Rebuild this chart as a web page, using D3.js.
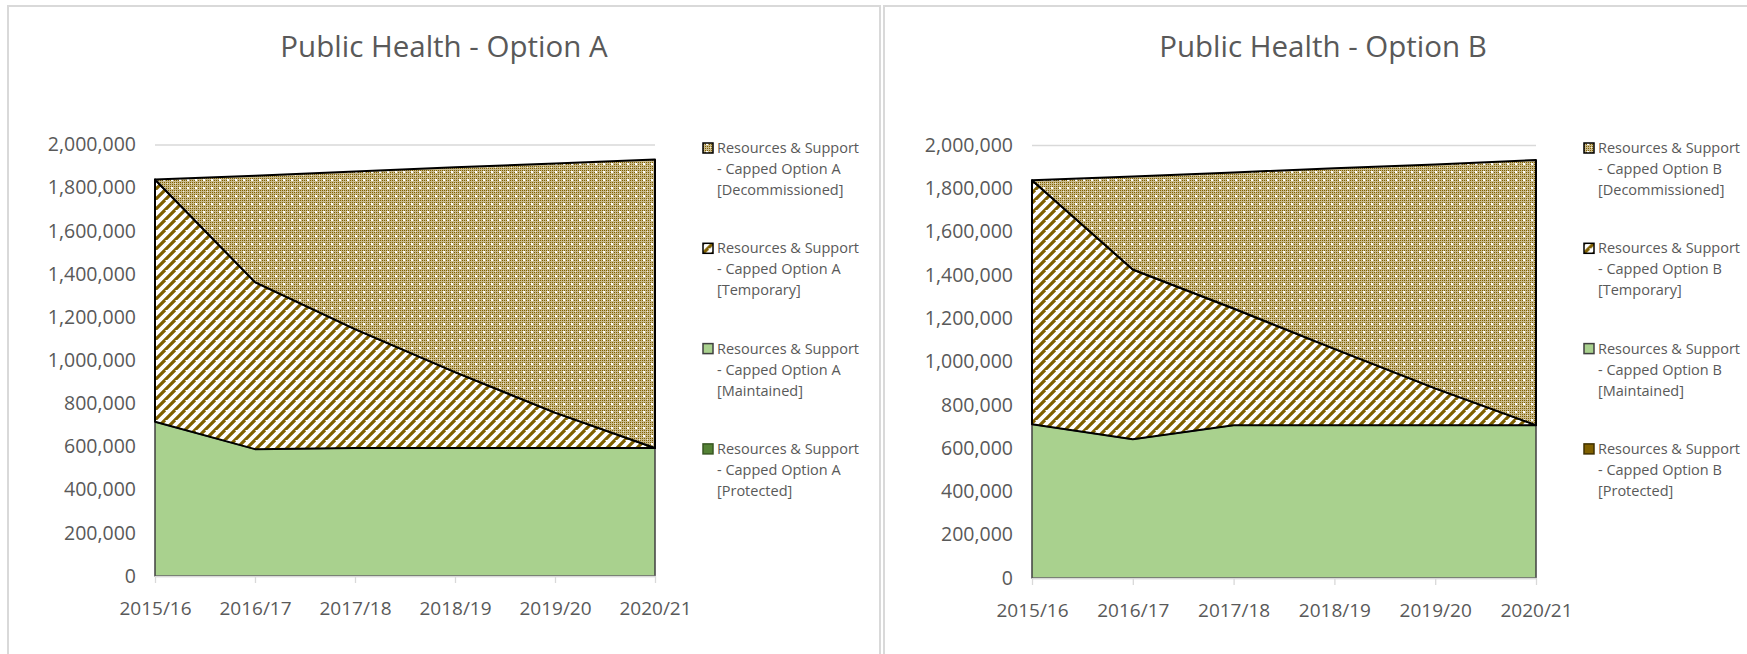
<!DOCTYPE html>
<html>
<head>
<meta charset="utf-8">
<script src="https://cdn.jsdelivr.net/npm/d3@7"></script>
<style>
  body { margin: 0; background: #fff; }
  svg { display: block; font-family: "Open Sans", sans-serif; }
</style>
</head>
<body>
<svg id="chart" width="1747" height="654"></svg>
<script>
// categories
var years = ["2015/16", "2016/17", "2017/18", "2018/19", "2019/20", "2020/21"];
var yTicks = [0, 200000, 400000, 600000, 800000, 1000000, 1200000, 1400000, 1600000, 1800000, 2000000];

// Option A series
var protectedA = [0, 0, 0, 0, 0, 0];
var maintainedA = [715000, 588000, 593000, 593000, 593000, 593000];
var temporaryA = [1123000, 774000, 551000, 352000, 164000, 0];
var decommissionedA = [0, 493000, 731000, 949000, 1155000, 1337000];

// Option B series
var protectedB = [0, 0, 0, 0, 0, 0];
var maintainedB = [710000, 641000, 706000, 706000, 706000, 706000];
var temporaryB = [1127000, 784000, 539000, 352000, 170000, 0];
var decommissionedB = [0, 429000, 628000, 835000, 1034000, 1225000];

var svg = d3.select("#chart");
var brown = "#7f6000";
var textCol = "#595959";

var defs = svg.append("defs");

// dotted grid pattern for Decommissioned
var dots = defs.append("pattern")
    .attr("id", "pDecom")
    .attr("patternUnits", "userSpaceOnUse")
    .attr("width", 8).attr("height", 8);
dots.append("rect").attr("width", 8).attr("height", 8).attr("fill", "#c9ba8c");
for (var i = 0; i < 8; i += 2) {
  for (var j = 0; j < 8; j += 2) {
    dots.append("rect").attr("x", i).attr("y", j).attr("width", 1).attr("height", 1).attr("fill", brown);
  }
}
dots.append("rect").attr("x", 3).attr("y", 3).attr("width", 2).attr("height", 2).attr("fill", "#ffffff");
dots.append("rect").attr("x", 7).attr("y", 7).attr("width", 1).attr("height", 1).attr("fill", "#f4eedd");

// wide upward diagonal for Temporary
var stripes = defs.append("pattern")
    .attr("id", "pTemp")
    .attr("patternUnits", "userSpaceOnUse")
    .attr("width", 10).attr("height", 10);
stripes.append("rect").attr("width", 10).attr("height", 10).attr("fill", "#ffffff");
stripes.append("path")
    .attr("d", "M-5,10 L5,0 M0,15 L15,0 M5,20 L15,10")
    .attr("stroke", brown)
    .attr("stroke-width", 3.2);

function drawPanel(cfg) {
  var g = svg.append("g");

  // panel border
  g.append("rect")
    .attr("x", cfg.box[0]).attr("y", cfg.box[1])
    .attr("width", cfg.box[2]).attr("height", cfg.box[3])
    .attr("fill", "none")
    .attr("stroke", "#d9d9d9")
    .attr("stroke-width", 2);

  g.append("text")
    .attr("x", cfg.box[0] + cfg.box[2] / 2)
    .attr("y", 57)
    .attr("text-anchor", "middle")
    .attr("fill", textCol)
    .style("font-size", "29.5px")
    .text(cfg.title);

  var x = d3.scalePoint().domain(years).range([cfg.left, cfg.right]);
  var y = d3.scaleLinear().domain([0, 2000000]).range([cfg.bottom, cfg.top]);

  // gridlines
  g.append("g")
    .attr("transform", "translate(" + cfg.left + ",0)")
    .call(d3.axisLeft(y).tickValues(yTicks).tickSize(-(cfg.right - cfg.left)).tickFormat(""))
    .call(function (s) {
      s.select(".domain").remove();
      s.selectAll("line").attr("stroke", "#d9d9d9").attr("stroke-width", 1.3);
    });

  var rows = years.map(function (yr, k) {
    return {
      year: yr,
      prot: cfg.series[0][k],
      maint: cfg.series[1][k],
      temp: cfg.series[2][k],
      decom: cfg.series[3][k]
    };
  });
  var keys = ["prot", "maint", "temp", "decom"];
  var stacked = d3.stack().keys(keys)(rows);

  var area = d3.area()
    .x(function (d) { return x(d.data.year); })
    .y0(function (d) { return y(d[0]); })
    .y1(function (d) { return y(d[1]); });

  var fills = [cfg.protColor, "#a9d18e", "url(#pTemp)", "url(#pDecom)"];
  var strokes = ["none", "#404040", "#000000", "#000000"];
  var widths = [0, 1.5, 2, 2];

  g.append("g").selectAll("path")
    .data(stacked)
    .enter()
    .append("path")
    .attr("d", area)
    .attr("fill", function (d, k) { return fills[k]; })
    .attr("stroke", function (d, k) { return strokes[k]; })
    .attr("stroke-width", function (d, k) { return widths[k]; })
    .attr("stroke-linejoin", "round");

  // x axis
  g.append("g")
    .attr("transform", "translate(0," + cfg.bottom + ")")
    .call(d3.axisBottom(x).tickSize(7).tickSizeOuter(0).tickPadding(19))
    .call(function (s) {
      s.select(".domain").attr("stroke", "#d9d9d9").attr("stroke-width", 1.3);
      s.selectAll("line").attr("stroke", "#d9d9d9").attr("stroke-width", 1.3);
      s.selectAll("text").attr("fill", textCol).style("font-size", "19px").style("font-family", "Open Sans");
    });

  // y axis labels
  g.append("g")
    .attr("transform", "translate(" + (cfg.left - 19) + ",0)")
    .call(d3.axisLeft(y).tickValues(yTicks).tickSize(0).tickPadding(0).tickFormat(d3.format(",")))
    .call(function (s) {
      s.select(".domain").remove();
      s.selectAll("text").attr("fill", textCol).style("font-size", "19.5px").style("font-family", "Open Sans");
    });

  // legend
  var legNames = [
    ["Resources & Support", "- Capped Option " + cfg.opt, "[Decommissioned]"],
    ["Resources & Support", "- Capped Option " + cfg.opt, "[Temporary]"],
    ["Resources & Support", "- Capped Option " + cfg.opt, "[Maintained]"],
    ["Resources & Support", "- Capped Option " + cfg.opt, "[Protected]"]
  ];
  var legFills = ["url(#pDecom)", "url(#pTemp)", "#a9d18e", cfg.protColor];
  var legStroke = ["#000000", "#000000", "#404040", cfg.protStroke];

  var leg = g.append("g").selectAll("g")
    .data(legNames)
    .enter()
    .append("g")
    .attr("transform", function (d, k) { return "translate(" + cfg.legX + "," + (148 + k * 100.3) + ")"; });

  leg.append("rect")
    .attr("x", 0).attr("y", -5)
    .attr("width", 10).attr("height", 10)
    .attr("fill", function (d, k) { return legFills[k]; })
    .attr("stroke", function (d, k) { return legStroke[k]; })
    .attr("stroke-width", 1.5);

  leg.each(function (d) {
    var t = d3.select(this).append("text")
      .attr("fill", textCol)
      .style("font-size", "14.5px");
    d.forEach(function (line, n) {
      t.append("tspan")
        .attr("x", 14)
        .attr("y", 5 + n * 21)
        .text(line);
    });
  });
}

drawPanel({
  box: [8, 6, 872, 700],
  title: "Public Health - Option A",
  opt: "A",
  left: 155, right: 655, top: 144.5, bottom: 576,
  legX: 703,
  protColor: "#548235",
  protStroke: "#385723",
  series: [protectedA, maintainedA, temporaryA, decommissionedA]
});

drawPanel({
  box: [884, 6, 878, 700],
  title: "Public Health - Option B",
  opt: "B",
  left: 1032, right: 1536, top: 145, bottom: 578,
  legX: 1584,
  protColor: "#7f6000",
  protStroke: "#3f3000",
  series: [protectedB, maintainedB, temporaryB, decommissionedB]
});
</script>
</body>
</html>
